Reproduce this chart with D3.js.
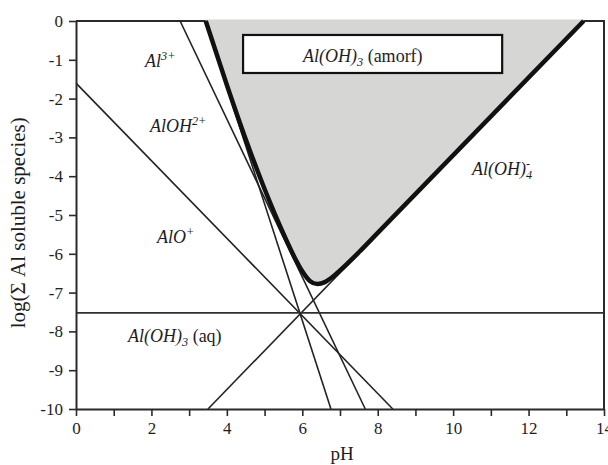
<!DOCTYPE html>
<html>
<head>
<meta charset="utf-8">
<script src="https://cdn.jsdelivr.net/npm/d3@7"></script>
<style>
  body { margin: 0; background: #fff; }
  text { font-family: "Liberation Serif", "Times New Roman", serif; fill: #1e1e1e; }
</style>
</head>
<body>
<svg id="chart" width="608" height="465"></svg>
<script>
// pH ticks and log ticks
var xTicks = d3.range(0, 15);
var yTicks = d3.range(-10, 1);

// thin species lines as [pH, log] end points
var lineAl3 = [[3.43, 0], [6.76, -10]];
var lineAlOH2 = [[2.76, 0], [7.67, -10]];
var lineAlO = [[0, -1.6], [8.4, -10]];
var lineAlOH3aq = [[0, -7.52], [14, -7.52]];
var lineAlOH4 = [[3.5, -10], [13.47, 0]];

// total solubility (thick line)
var totalPH = [3.44, 4.0, 4.5, 5.0, 5.5, 5.8, 6.0, 6.2, 6.4, 6.6, 6.8, 7.0, 7.5, 8.0, 13.46];
var totalLog = [0, -1.65, -3.05, -4.33, -5.48, -6.1, -6.45, -6.7, -6.78, -6.73, -6.6, -6.43, -5.96, -5.46, 0];

var width = 608, height = 465;
var margin = {top: 21, right: 4, bottom: 56, left: 76};

var svg = d3.select('#chart');

var x = d3.scaleLinear().domain([0, 14]).range([margin.left, width - margin.right]);
var y = d3.scaleLinear().domain([-10, 0]).range([height - margin.bottom, margin.top]);

var total = totalPH.map(function(p, i) { return [p, totalLog[i]]; });

// frame (top + right)
svg.append('path')
    .attr('d', 'M' + x(0) + ',' + y(0) + 'H' + x(14) + 'V' + y(-10))
    .attr('fill', 'none')
    .attr('stroke', '#2a2a2a')
    .attr('stroke-width', 2);

// shaded solid region
var area = d3.area()
    .x(function(d) { return x(d[0]); })
    .y0(y(0) - 1.5)
    .y1(function(d) { return y(d[1]); })
    .curve(d3.curveMonotoneX);

svg.append('path')
    .datum(total)
    .attr('d', area)
    .attr('fill', '#d6d6d4');

var line = d3.line()
    .x(function(d) { return x(d[0]); })
    .y(function(d) { return y(d[1]); });

svg.selectAll('.species')
    .data([lineAl3, lineAlOH2, lineAlO, lineAlOH4])
    .enter().append('path')
    .attr('class', 'species')
    .attr('d', line)
    .attr('fill', 'none')
    .attr('stroke', '#222')
    .attr('stroke-width', 1.6);

svg.append('path')
    .datum(lineAlOH3aq)
    .attr('d', line)
    .attr('fill', 'none')
    .attr('stroke', '#2b322b')
    .attr('stroke-width', 1.8);

// thick total line
svg.append('path')
    .datum(total)
    .attr('d', line.curve(d3.curveMonotoneX))
    .attr('fill', 'none')
    .attr('stroke', '#111')
    .attr('stroke-width', 4.5)
    .attr('stroke-linejoin', 'round');

// axes
var xAxis = svg.append('g')
    .attr('transform', 'translate(0,' + y(-10) + ')')
    .call(d3.axisBottom(x).tickValues(xTicks).tickSize(7).tickSizeOuter(0).tickPadding(6)
        .tickFormat(function(d) { return d % 2 === 0 ? d : ''; }));

var yAxis = svg.append('g')
    .attr('transform', 'translate(' + x(0) + ',0)')
    .call(d3.axisLeft(y).tickValues(yTicks).tickSize(7).tickSizeOuter(0).tickPadding(6)
        .tickFormat(function(d) { return String(d); }));

[xAxis, yAxis].forEach(function(g) {
    g.select('.domain').attr('stroke', '#2a2a2a').attr('stroke-width', 2);
    g.selectAll('.tick line').attr('stroke', '#2a2a2a').attr('stroke-width', 1.6);
    g.selectAll('.tick text').style('font-size', '17px').attr('fill', '#1e1e1e')
        .style('font-family', '"Liberation Serif", serif');
});

// axis titles
svg.append('text')
    .attr('x', x(7) + 2)
    .attr('y', 460)
    .attr('text-anchor', 'middle')
    .style('font-size', '19px')
    .text('pH');

svg.append('text')
    .attr('transform', 'translate(25,' + (y(-5.2)) + ') rotate(-90)')
    .attr('text-anchor', 'middle')
    .style('font-size', '21px')
    .text('log(\u03A3 Al soluble species)');

// label helper: parts are [text, italic, shift] ; shift: 0 base, 1 sup, -1 sub, 2 = sup stacked over previous
function label(px, py, parts, size) {
    var t = svg.append('text')
        .attr('x', x(px))
        .attr('y', y(py))
        .style('font-size', size + 'px');
    var prev = null;
    parts.forEach(function(p) {
        var s = t.append('tspan').text(p[0]);
        if (p[1]) s.style('font-style', 'italic');
        if (p[2] !== 0) s.style('font-size', (size * 0.68) + 'px');
        var base = 0;
        if (p[2] === 1 || p[2] === 2) base = -size * 0.38;
        if (p[2] === -1) base = size * 0.22;
        s.attr('y', y(py) + base);
        if (p[2] === 2 && prev) {
            s.attr('dx', -prev.node().getComputedTextLength());
        }
        prev = s;
    });
    return t;
}

label(1.83, -1.19, [['Al', true, 0], ['3+', true, 1]], 18);
label(1.96, -2.86, [['AlOH', true, 0], ['2+', true, 1]], 18);
label(2.15, -5.72, [['AlO', true, 0], ['+', true, 1]], 18);
label(1.38, -8.27, [['Al(OH)', true, 0], ['3', true, -1], [' (aq)', false, 0]], 18);
label(10.5, -3.97, [['Al(OH)', true, 0], ['4', true, -1], ['-', true, 2]], 18);

// amorphous solid box
svg.append('rect')
    .attr('x', x(4.43))
    .attr('y', y(-0.36))
    .attr('width', x(11.3) - x(4.43))
    .attr('height', y(-1.34) - y(-0.36))
    .attr('fill', '#fff')
    .attr('stroke', '#111')
    .attr('stroke-width', 2.2);

label(6.02, -1.06, [['Al(OH)', true, 0], ['3', true, -1], [' (amorf)', false, 0]], 18);
</script>
</body>
</html>
